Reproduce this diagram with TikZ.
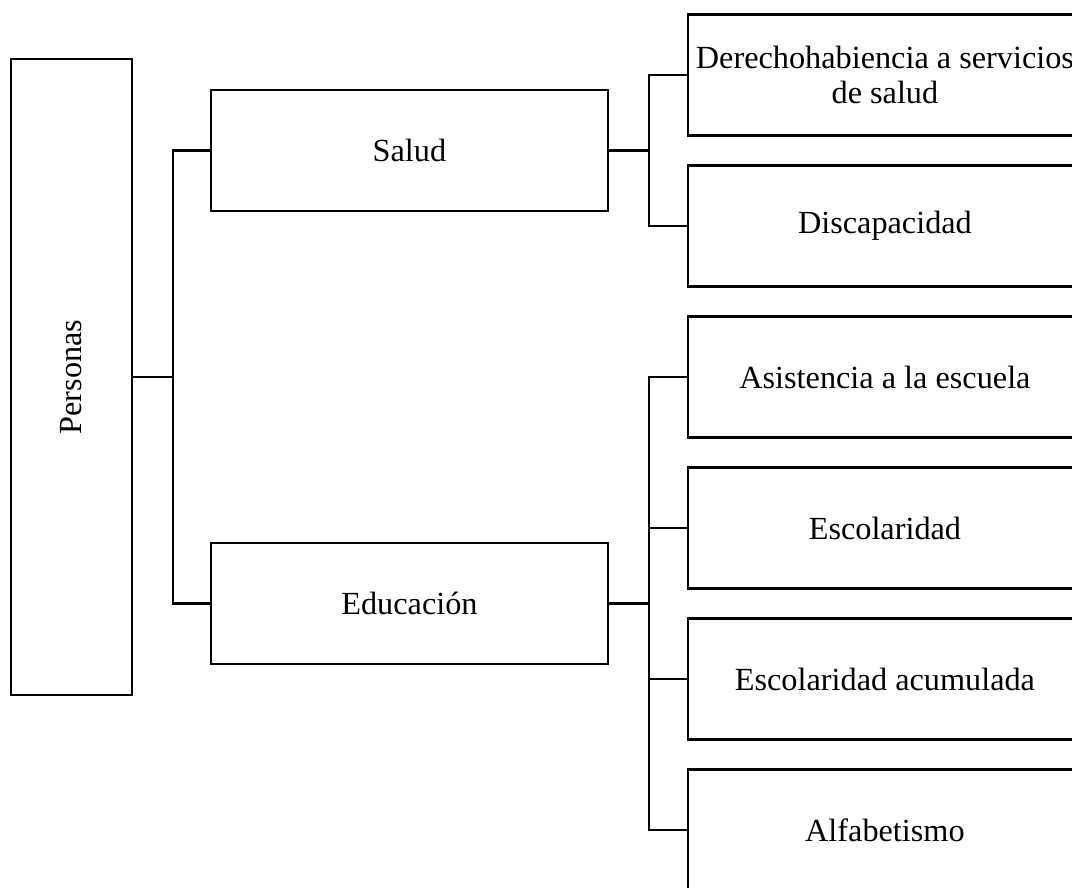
\documentclass[tikz,border=0pt]{standalone}
\usepackage{fontspec}
\usepackage{graphicx}
\setmainfont{Liberation Serif}
\usetikzlibrary{positioning}

\begin{document}
\begin{tikzpicture}[line width=1.8pt,node distance=113.25pt,on grid,
  every node/.style={font=\fontsize{24.2pt}{26.5pt}\selectfont}]
  \useasboundingbox (0,0) rectangle (804pt,-666pt);
  \clip (0,0) rectangle (804pt,-666pt);
\tikzset{mybox/.style={draw,rectangle,align=center,minimum height=90.75pt}}
  \node[mybox,minimum width=90.75pt,minimum height=477pt] (P) at (53.6pt,-282.75pt) {\rotatebox{90}{Personas}};
  \node[mybox,minimum width=297.75pt] (S)  [above right=169.9pt and 253.5pt of P] {Salud};
  \node[mybox,minimum width=297.75pt] (E)  [below right=169.9pt and 253.5pt of P] {Educación};
  \node[mybox,minimum width=295.5pt]  (A1) [right=610.1pt of P] {Asistencia a la escuela};
  \node[mybox,minimum width=295.5pt]  (A2) [below=of A1]        {Escolaridad};
  \node[mybox,minimum width=295.5pt]  (A3) [below=of A2]        {Escolaridad acumulada};
  \node[mybox,minimum width=295.5pt]  (A4) [below=of A3]        {Alfabetismo};
  \node[mybox,minimum width=295.5pt]  (D2) [above=of A1]        {Discapacidad};
  \node[mybox,minimum width=295.5pt]  (D1) [above=of D2]        {Derechohabiencia a servicios\\de salud};
\tikzset{mystyle/.style={to path={-- ++(30pt,0) |- (\tikztotarget)}}}
\path (P.east)  edge [mystyle] (S.west)
      (P.east)  edge [mystyle] (E.west);
\path (S.east)  edge [mystyle] (D1.west)
      (S.east)  edge [mystyle] (D2.west);
\path (E.east)  edge [mystyle] (A1.west)
      (E.east)  edge [mystyle] (A2.west)
      (E.east)  edge [mystyle] (A3.west)
      (E.east)  edge [mystyle] (A4.west);
\end{tikzpicture}
\end{document}
